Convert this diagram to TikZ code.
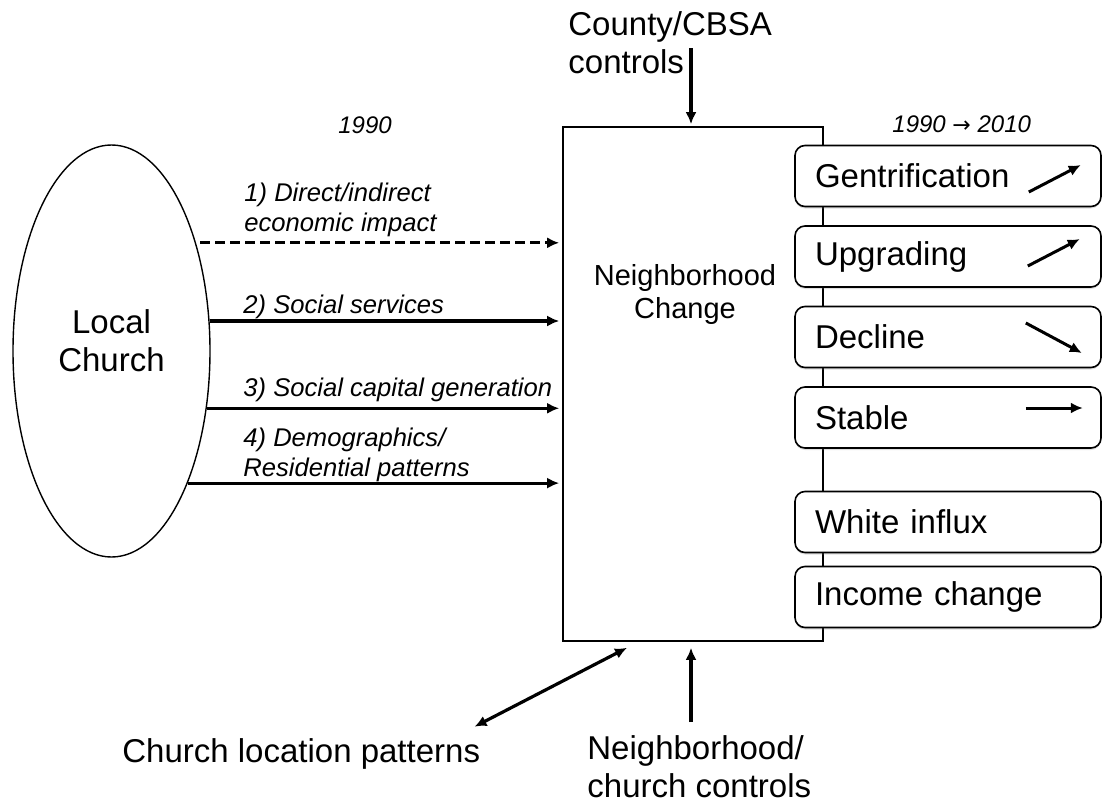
\documentclass[tikz,border=0pt]{standalone}
\usepackage{fontspec}
\setmainfont{Liberation Sans}
\newfontfamily\arrowfont{DejaVu Sans}
\usepackage{tikz}
\usetikzlibrary{positioning, calc, shapes, arrows.meta, shadows}

\tikzset{
	big/.style={font=\fontsize{16.5}{19}\selectfont, inner sep=0pt},
	lbl/.style={font=\fontsize{12.8}{15}\selectfont\itshape, inner sep=0pt, align=left},
	outcome/.style={draw, rounded corners=5pt, line width=0.8pt, fill=white,
		minimum height=30.5pt, text width=133pt, inner xsep=10pt, inner ysep=0pt, align=left,
		font=\fontsize{16.5}{19}\selectfont,
		drop shadow={shadow xshift=0pt, shadow yshift=-1pt, opacity=0.25}},
	link/.style={line width=1.6pt, -{Latex[length=6pt, width=5.5pt]}},
	both/.style={line width=1.6pt, {Latex[length=6pt, width=5.5pt]}-{Latex[length=6pt, width=5.5pt]}},
	trend/.style={line width=1.5pt, -{Latex[length=6pt, width=5.5pt]}}
}

\begin{document}
\begin{tikzpicture}[x=0.5pt, y=-0.5pt]
			\useasboundingbox (0,0) rectangle (1102,803);
			
			\node[draw, ellipse, line width=0.7pt, minimum width=98.5pt, minimum height=206pt, inner sep=0pt] (church) at (111.5,351) {};
			\node[big, align=center] (churchtxt) at (111.5,341) {Local\\Church};
			
			\node[draw, line width=0.8pt, minimum width=130pt, minimum height=257pt, inner sep=0pt] (nbhd) at (693,384) {};
			\node[font=\fontsize{14.5}{16.5}\selectfont, inner sep=0pt, align=center] (nbhdtxt) at (685,294) {Neighborhood\\Change};
			
			\node[outcome] (gent)   at (948,176)   {Gentrification};
			\node[outcome] (upg)    at (948,256.5) {Upgrading};
			\node[outcome] (decl)   at (948,337)   {Decline};
			\node[outcome] (stab)   at (948,417.5) {Stable};
			\node[outcome] (white)  at (948,522)   {White influx};
			\node[outcome] (income) at (948,597)   {Income change};
			
			\draw[trend] (gent.east) ++(-73,16) -- ++(52,-27);
			\draw[trend] (upg.east) ++(-74,9.5) -- ++(52,-27);
			\draw[trend] (decl.east) ++(-76,-14) -- ++(56,30);
			\draw[trend] (stab.east) ++(-76,-9.5) -- ++(57,0);
			
			\node[font=\fontsize{12}{14}\selectfont\itshape, inner sep=0pt, anchor=base west] (yr) at (338,133) {1990};
			\node[font=\fontsize{12}{14}\selectfont\itshape, inner sep=0pt, anchor=base west] (yrs) at (892,132) {1990 {\arrowfont\fontsize{11}{14}\selectfont →} 2010};
			
			\node[lbl, anchor=north west] (econ) at (244,183) {1) Direct/indirect\\economic impact};
			\node[lbl, anchor=base west] (serv) at (243,313) {2) Social services};
			\node[lbl, anchor=base west] (capi) at (243,396) {3) Social capital generation};
			\node[lbl, anchor=north west] (demo) at (243,428) {4) Demographics/\\Residential patterns};
			
			\draw[link, dashed, dash pattern=on 5pt off 2.5pt, shorten <=2pt, shorten >=1.5pt] (church.52) -- (church.52 -| nbhd.west);
			\draw[link, shorten >=1.5pt] (church.17) -- (church.17 -| nbhd.west);
			\draw[link, shorten >=1.5pt] (church.-31) -- (church.-31 -| nbhd.west);
			\draw[link, shorten >=1.5pt] (church.-60) -- (church.-60 -| nbhd.west);
			
			\node[big, align=left, anchor=north west] (cbsa) at (568,11) {County/CBSA\\controls};
			\coordinate (cbsaend) at (691,48);
			\draw[link, shorten >=1pt] (cbsaend) -- (cbsaend |- nbhd.north);
			
			\node[big, anchor=base west] (locpat) at (122,762) {Church location patterns};
			\draw[both] ([xshift=-3pt, yshift=5.5pt]locpat.north east) -- ([xshift=-33pt, yshift=-3pt]nbhd.south);
			
			\node[big, align=left, anchor=north west] (ncc) at (587,735) {Neighborhood/\\church controls};
			\coordinate (nccend) at (691,722);
			\draw[link, shorten >=3pt] (nccend) -- (nccend |- nbhd.south);
		\end{tikzpicture}
\end{document}
